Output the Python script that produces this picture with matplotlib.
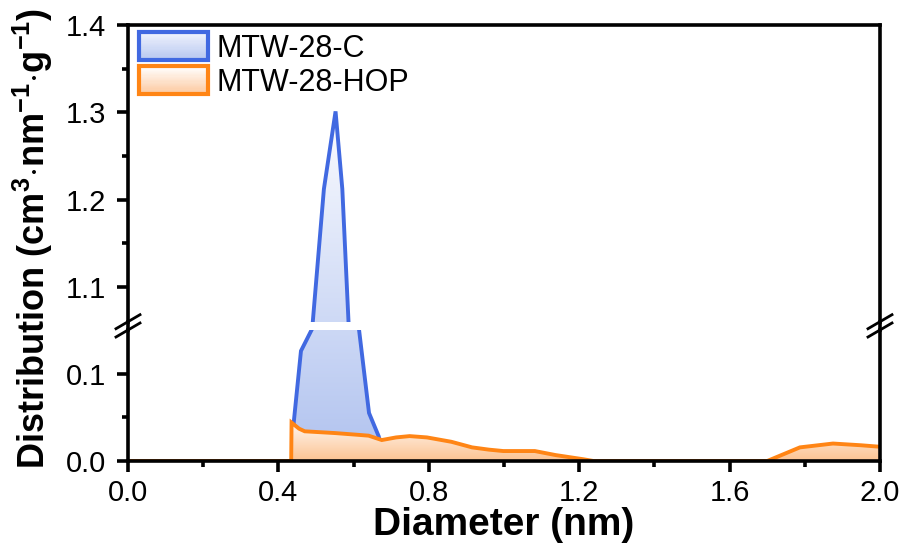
"""Pore size distribution of MTW-28-C and MTW-28-HOP on a broken y axis."""

import numpy as np
import matplotlib

matplotlib.use("Agg")
import matplotlib.pyplot as plt
from matplotlib.legend_handler import HandlerBase
from matplotlib.lines import Line2D
from matplotlib.patches import Rectangle
from matplotlib.colors import to_rgb

plt.rcParams["font.family"] = ["Liberation Sans", "DejaVu Sans"]
plt.rcParams["mathtext.fontset"] = "custom"
plt.rcParams["mathtext.rm"] = "Liberation Sans"
plt.rcParams["mathtext.bf"] = "Liberation Sans:bold"

# data (diameter in nm, distribution in cm3 nm-1 g-1)
c_diameter = [0.0, 0.405, 0.436, 0.441, 0.460, 0.4905, 0.4905, 0.521, 0.552,
              0.570, 0.587, 0.614, 0.641, 0.667, 0.681, 2.0]
c_value = [0.0, 0.0, 0.0, 0.045, 0.126, 0.152, 1.055, 1.212, 1.301,
           1.212, 1.055, 0.152, 0.055, 0.028, 0.0, 0.0]

hop_diameter = [0.0, 0.434, 0.435, 0.455, 0.47, 0.55, 0.611, 0.64, 0.675, 0.713,
                0.749, 0.795, 0.86, 0.915, 0.96, 0.998, 1.082, 1.137, 1.211,
                1.238, 1.70, 1.787, 1.875, 1.95, 2.0]
hop_value = [0.0, 0.0, 0.044, 0.037, 0.034, 0.032, 0.030, 0.029, 0.024, 0.027,
             0.0285, 0.027, 0.022, 0.0156, 0.013, 0.0114, 0.0114, 0.0068, 0.002,
             0.0, 0.0, 0.0156, 0.020, 0.018, 0.0163]

labels = ["MTW-28-C", "MTW-28-HOP"]
x_ticks = [0.0, 0.4, 0.8, 1.2, 1.6, 2.0]
low_ticks = [0.0, 0.1]
high_ticks = [1.1, 1.2, 1.3, 1.4]

BLUE = "#4169e1"
ORANGE = "#ff8515"
BLUE_TOP, BLUE_BOT = np.array(to_rgb("#fbfcff")), np.array(to_rgb("#b0c2ef"))
ORANGE_TOP, ORANGE_BOT = np.array(to_rgb("#fff8f2")), np.array(to_rgb("#fcc392"))

W, H = 902, 550
SPINE = 2.6
LINE = 2.8


def px_box(left, top, right, bottom):
    return [left / W, 1 - bottom / H, (right - left) / W, (bottom - top) / H]


fig = plt.figure(figsize=(W / 100, H / 100), dpi=100)
ax_lo = fig.add_axes(px_box(128, 330, 880, 461))
ax_hi = fig.add_axes(px_box(128, 25, 880, 321.7))

ax_lo.set_xlim(0, 2)
ax_hi.set_xlim(0, 2)
ax_lo.set_ylim(0, 0.15)
ax_hi.set_ylim(1.06, 1.4)


def gradient_fill(ax, x, y, c_top, c_bot, top_px, bot_px, zorder):
    """Fill under a curve with a vertical gradient fixed in screen space."""
    poly = ax.fill_between(x, y, 0, facecolor="none", edgecolor="none", zorder=zorder)
    box = ax.get_position()
    ys = np.linspace((1 - box.y1) * H, (1 - box.y0) * H, 256)
    t = np.clip((ys - top_px) / (bot_px - top_px), 0, 1)[:, None]
    img = ((1 - t) * c_top + t * c_bot)[:, None, :]
    x0, x1 = ax.get_xlim()
    y0, y1 = ax.get_ylim()
    im = ax.imshow(img, extent=(x0, x1, y0, y1), origin="upper", aspect="auto",
                   interpolation="bilinear", zorder=zorder)
    im.set_clip_path(poly.get_paths()[0], transform=ax.transData)
    ax.set_xlim(x0, x1)
    ax.set_ylim(y0, y1)


for ax in (ax_lo, ax_hi):
    gradient_fill(ax, c_diameter, c_value, BLUE_TOP, BLUE_BOT, 112, 461, 1)
    ax.plot(c_diameter, c_value, color=BLUE, lw=LINE, zorder=2, solid_joinstyle="miter")
    gradient_fill(ax, hop_diameter, hop_value, ORANGE_TOP, ORANGE_BOT, 422, 461, 3)
    ax.plot(hop_diameter, hop_value, color=ORANGE, lw=LINE, zorder=4, solid_joinstyle="miter")
    for side in ("left", "right", "top", "bottom"):
        ax.spines[side].set_linewidth(SPINE)
        ax.spines[side].set_zorder(6)
    ax.tick_params(which="both", direction="out", width=SPINE, labelsize=21,
                   right=False, top=False)
    ax.tick_params(which="major", length=8, pad=5)
    ax.tick_params(which="minor", length=4.5)
    ax.tick_params(axis="y", which="major", pad=8)
    ax.set_xticks(x_ticks)
    ax.set_xticks(np.arange(0.2, 2.0, 0.4), minor=True)

ax_lo.spines["top"].set_visible(False)
ax_hi.spines["bottom"].set_visible(False)
ax_hi.tick_params(which="both", bottom=False, labelbottom=False)

ax_lo.set_yticks(low_ticks)
ax_lo.set_yticks([0.05], minor=True)
ax_hi.set_yticks(high_ticks)
ax_hi.set_yticks([1.15, 1.25, 1.35], minor=True)
ax_lo.set_xticklabels([f"{v:.1f}" for v in x_ticks])
ax_lo.set_yticklabels([f"{v:.1f}" for v in low_ticks])
ax_hi.set_yticklabels([f"{v:.1f}" for v in high_ticks])

ax_lo.set_xlabel("Diameter (nm)", fontsize=28, fontweight="bold", labelpad=0)
fig.text(33 / W, 1 - 238 / H,
         r"Distribution (cm$^{\mathbf{3}}$$\cdot$nm$^{\mathbf{-1}}$$\cdot$g$^{\mathbf{-1}}$)",
         rotation=90, ha="center", va="center", fontsize=26, fontweight="bold")

# spine pieces across the gap and the break marks
for sx in (128, 880):
    fig.add_artist(Line2D([sx / W, sx / W], [1 - 330 / H, 1 - 321.7 / H],
                          transform=fig.transFigure, color="k", lw=SPINE))
    for sy in (321.7, 330):
        fig.add_artist(Line2D([(sx - 12) / W, (sx + 12) / W],
                              [1 - (sy + 7) / H, 1 - (sy - 7) / H],
                              transform=fig.transFigure, color="k", lw=2.0))


class GradientHandler(HandlerBase):
    def __init__(self, c_top, c_bot, edge):
        super().__init__()
        self.c_top, self.c_bot, self.edge = c_top, c_bot, edge

    def create_artists(self, legend, orig_handle, xdescent, ydescent, width,
                       height, fontsize, trans):
        n = 24
        artists = []
        for i in range(n):
            t = i / (n - 1)
            col = t * self.c_top + (1 - t) * self.c_bot
            artists.append(Rectangle((-xdescent, -ydescent + height * i / n), width,
                                     height / n * 1.05, facecolor=col, edgecolor="none",
                                     transform=trans))
        artists.append(Rectangle((-xdescent, -ydescent), width, height, facecolor="none",
                                 edgecolor=self.edge, lw=3.0, transform=trans))
        return artists


h_c = Rectangle((0, 0), 1, 1)
h_hop = Rectangle((0, 0), 1, 1)
ax_hi.legend([h_c, h_hop], labels,
             handler_map={h_c: GradientHandler(np.array(to_rgb("#f0f3fd")), np.array(to_rgb("#b6c6f0")), BLUE),
                          h_hop: GradientHandler(np.array(to_rgb("#ffffff")), np.array(to_rgb("#fcc89e")), ORANGE)},
             loc="upper left", bbox_to_anchor=(139 / W, 1 - 32 / H), bbox_transform=fig.transFigure,
             frameon=False, fontsize=22, handlelength=2.25, handleheight=1.05,
             handletextpad=0.3, labelspacing=0.08, borderpad=0, borderaxespad=0)

fig.savefig("out.png", dpi=100)
